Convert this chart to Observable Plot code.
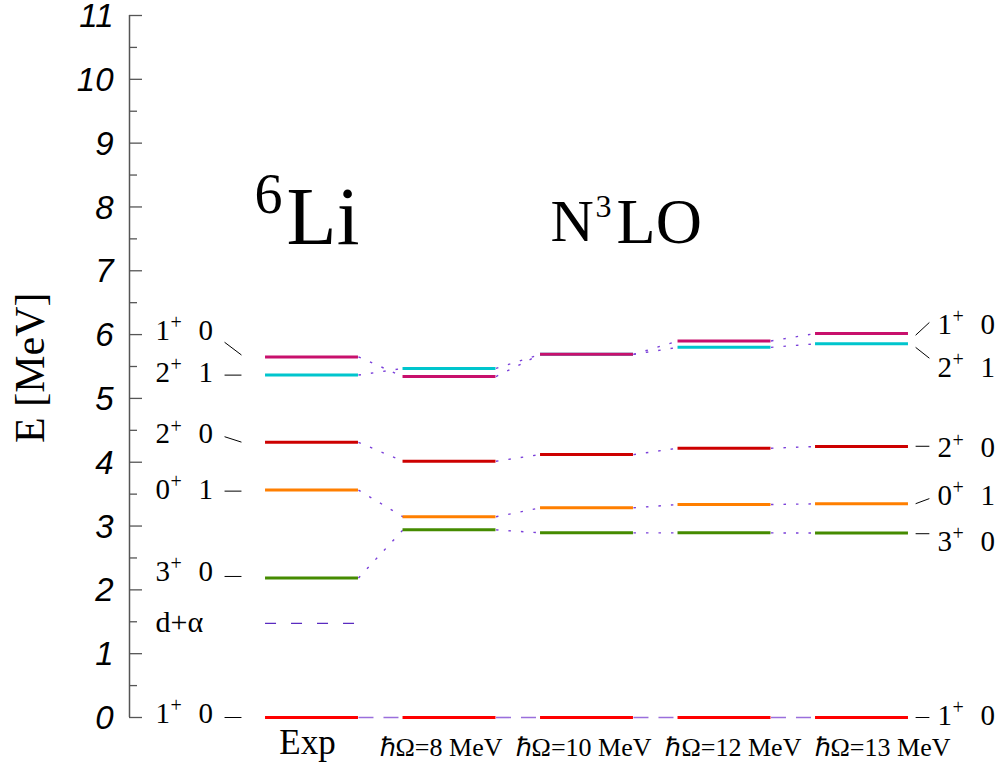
<!DOCTYPE html>
<html>
<head>
<meta charset="utf-8">
<script src="https://cdn.jsdelivr.net/npm/d3@7"></script>
<script src="https://cdn.jsdelivr.net/npm/@observablehq/plot@0.6"></script>
<style>
  html, body { margin: 0; padding: 0; background: #fff; }
</style>
</head>
<body>
<div id="chart"></div>
<script>
// 6Li spectrum: experiment vs. N3LO no-core results at several ħΩ
const columns = ["Exp", "ℏΩ=8 MeV", "ℏΩ=10 MeV", "ℏΩ=12 MeV", "ℏΩ=13 MeV"];

// states (J^π T), in drawing order
const stateJ = ["1", "3", "0", "2", "2", "1"];
const stateT = ["0", "0", "1", "0", "1", "0"];
const stateColor = ["#ff0000", "#458b00", "#ff7f00", "#cd0000", "#00c5cd", "#c8106c"];

// excitation energies [MeV] per column
const E_1p0_gs = [0, 0, 0, 0, 0];
const E_3p0    = [2.186, 2.94, 2.893, 2.893, 2.89];
const E_0p1    = [3.563, 3.145, 3.286, 3.337, 3.348];
const E_2p0    = [4.312, 4.016, 4.12, 4.22, 4.246];
const E_2p1    = [5.366, 5.47, 5.69, 5.80, 5.855];
const E_1p0    = [5.65, 5.343, 5.69, 5.90, 6.017];
const energies = [E_1p0_gs, E_3p0, E_0p1, E_2p0, E_2p1, E_1p0];

// d + alpha breakup threshold
const dAlpha = 1.474;

// label anchors [MeV]: text centre, leader start, leader end
const leftLabelE   = [0.067, 2.29, 3.574, 4.44, 5.41, 6.066];
const leftLeaderA  = [0, 2.21, 3.547, 4.40, 5.365, 5.88];
const leftLeaderB  = [0, 2.21, 3.547, 4.315, 5.365, 5.68];
const rightLabelE  = [0.03, 2.76, 3.48, 4.22, 5.486, 6.16];
const rightLeaderA = [0, 2.88, 3.35, 4.25, 5.80, 5.99];
const rightLeaderB = [0, 2.88, 3.43, 4.25, 5.63, 6.19];

const yMajor = d3.range(0, 12);
const yMinor = d3.range(0.5, 11, 1);

// ---- layout (column units: 0..4 are the level columns) ----
const xMin = -1.3273, xMax = 5.0291;
const hw = 0.338;                 // half width of a level bar
const pxPerCol = 137.5;
const majorLen = 13 / pxPerCol, minorLen = 8 / pxPerCol;
const leftTextX = -1.138, rightTextX = 4.549;
const leftLeaderX = [-0.636, -0.513], rightLeaderX = [4.39, 4.49];
const colLabelX = [-0.033, 0.938, 1.975, 3.065, 4.149];

const serif = "'Liberation Serif', 'Times New Roman', serif";
const sans = "'Liberation Sans', Arial, sans-serif";

// level bars
const levels = [];
energies.forEach((E, s) => E.forEach((e, i) => levels.push({s, i, e})));

// connectors between neighbouring columns
const links = [];
energies.forEach((E, s) => {
  for (let i = 0; i < E.length - 1; i++) {
    links.push({s, x1: i + hw, y1: E[i], x2: i + 1 - hw, y2: E[i + 1]});
  }
});
const dotted = links.filter(d => d.s !== 0);
const dashed = links.filter(d => d.s === 0);

const idx = d3.range(stateJ.length);

const labelMarks = (textX, labelE, leaderA, leaderB, leaderX) => [
  Plot.link(idx, {
    x1: () => leaderX[0], y1: i => leaderA[i],
    x2: () => leaderX[1], y2: i => leaderB[i],
    stroke: "#000", strokeWidth: 1
  }),
  Plot.text(idx, {x: () => textX, y: i => labelE[i], text: i => stateJ[i],
    textAnchor: "start", fontFamily: serif, fontSize: 29, fill: "#000"}),
  Plot.text(idx, {x: () => textX, y: i => labelE[i], text: () => "+",
    textAnchor: "start", dx: 15, dy: -8, fontFamily: serif, fontSize: 20, fill: "#000"}),
  Plot.text(idx, {x: () => textX, y: i => labelE[i], text: i => stateT[i],
    textAnchor: "start", dx: 43, fontFamily: serif, fontSize: 29, fill: "#000"})
];

const chart = Plot.plot({
  width: 1003,
  height: 772,
  marginLeft: 129,
  marginRight: 0,
  marginTop: 15,
  marginBottom: 55,
  style: {background: "#fff", overflow: "visible"},
  x: {domain: [xMin, xMax], axis: null},
  y: {domain: [0, 11], axis: null},
  color: {type: "identity"},
  marks: [
    // axis line and inward ticks
    Plot.ruleX([xMin], {y1: 0, y2: 11, stroke: "#555", strokeWidth: 1.5}),
    Plot.ruleY(yMajor, {y: d => d, x1: xMin, x2: xMin + majorLen, stroke: "#555", strokeWidth: 1.3}),
    Plot.ruleY(yMinor, {y: d => d, x1: xMin, x2: xMin + minorLen, stroke: "#555", strokeWidth: 1.3}),
    Plot.text(yMajor, {x: xMin, y: d => d, text: d => String(d), dx: -16, dy: 1, textAnchor: "end",
      fontFamily: sans, fontStyle: "italic", fontSize: 33, fill: "#000"}),
    Plot.text(["E [MeV]"], {x: xMin, y: 5.48, text: d => d, dx: -99, rotate: -90,
      fontFamily: serif, fontSize: 42, fill: "#000"}),

    // connectors
    Plot.link(dotted, {x1: "x1", y1: "y1", x2: "x2", y2: "y2",
      stroke: "#7a3fd9", strokeWidth: 1.4, strokeDasharray: "2.5,10"}),
    Plot.link(dashed, {x1: "x1", y1: "y1", x2: "x2", y2: "y2",
      stroke: "#9a6fdc", strokeWidth: 1.6, strokeDasharray: "15,10"}),

    // d + alpha threshold
    Plot.ruleY([dAlpha], {y: d => d, x1: -hw, x2: hw, stroke: "#5a2bc0",
      strokeWidth: 1.2, strokeDasharray: "11,15"}),
    Plot.text(["d+α"], {x: leftTextX, y: dAlpha + 0.016, text: d => d, textAnchor: "start",
      fontFamily: serif, fontSize: 30, fill: "#000"}),

    // levels
    Plot.ruleY(levels, {y: "e", x1: d => d.i - hw, x2: d => d.i + hw,
      stroke: d => stateColor[d.s], strokeWidth: 3}),

    // state labels
    ...labelMarks(leftTextX, leftLabelE, leftLeaderA, leftLeaderB, leftLeaderX),
    ...labelMarks(rightTextX, rightLabelE, rightLeaderA, rightLeaderB, rightLeaderX),

    // column labels
    Plot.text([columns[0]], {x: colLabelX[0], y: 0, text: d => d, dy: 25.5,
      fontFamily: serif, fontSize: 35, fill: "#000"}),
    Plot.text(columns.slice(1), {x: (d, i) => colLabelX[i + 1], y: 0, text: d => d, dy: 30,
      fontFamily: serif, fontSize: 26, fill: "#000"}),

    // headings
    Plot.text(["6"], {x: -0.418, y: 8.18, text: d => d, textAnchor: "start",
      fontFamily: serif, fontSize: 56, fill: "#000"}),
    Plot.text(["Li"], {x: -0.185, y: 7.83, text: d => d, textAnchor: "start",
      fontFamily: serif, fontSize: 82, fill: "#000"}),
    Plot.text(["N"], {x: 1.735, y: 7.76, text: d => d, textAnchor: "start",
      fontFamily: serif, fontSize: 60, fill: "#000"}),
    Plot.text(["3"], {x: 2.062, y: 8.0, text: d => d, textAnchor: "start",
      fontFamily: serif, fontSize: 32, fill: "#000"}),
    Plot.text(["LO"], {x: 2.215, y: 7.76, text: d => d, textAnchor: "start",
      fontFamily: serif, fontSize: 64, fill: "#000"})
  ]
});

document.getElementById("chart").append(chart);
</script>
</body>
</html>
